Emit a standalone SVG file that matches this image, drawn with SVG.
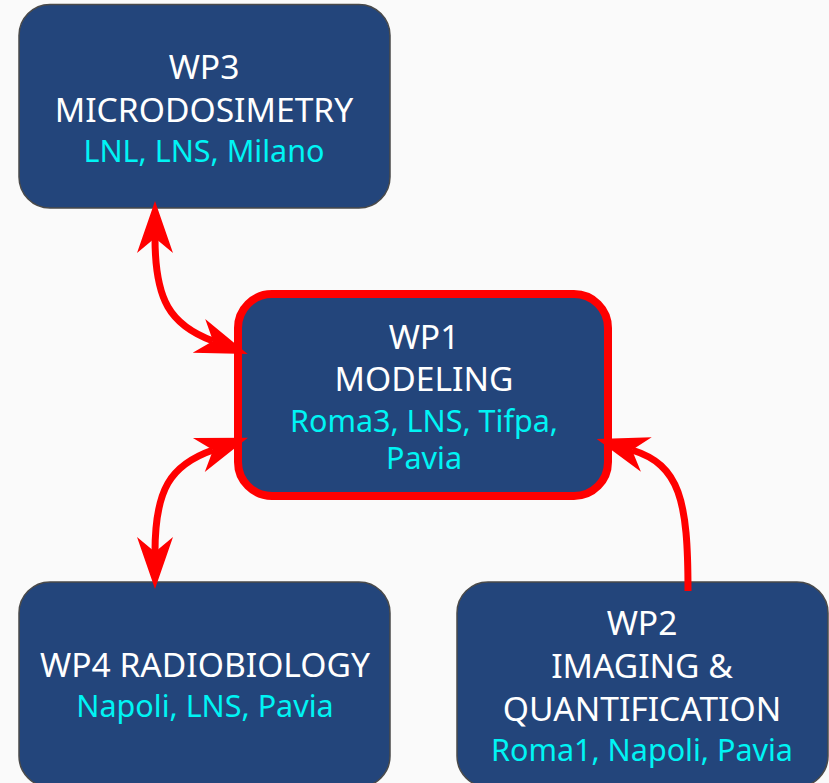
<svg xmlns="http://www.w3.org/2000/svg" width="829" height="783" viewBox="0 0 829 783">
<style>
.box{fill:#23457b;stroke:#4a4a4a;stroke-width:1.5}
.main{fill:#23457b;stroke:#ff0000;stroke-width:8}
text{font-family:"Noto Sans","Open Sans",sans-serif;font-size:33.6px;text-anchor:middle}
.t{fill:#ffffff}
.s{fill:#00f4f4;font-size:30.5px}
.c{fill:none;stroke:#ff0000;stroke-width:7}
</style>
<defs>
<marker id="ah" viewBox="-20 -20 60 40" markerWidth="60" markerHeight="40" refX="0" refY="0" markerUnits="userSpaceOnUse" orient="auto-start-reverse">
<path d="M37,0 L-15,-18 L0,0 L-15,18 Z" fill="#ff0000"/>
</marker>
</defs>
<rect width="829" height="783" fill="#fafafa"/>
<g id="wp3">
<rect class="box" x="19" y="4.5" width="371" height="203.5" rx="31"/>
<text class="t" x="204" y="79">WP3</text>
<text class="t" x="204" y="122">MICRODOSIMETRY</text>
<text class="s" x="204" y="162">LNL, LNS, Milano</text>
</g>
<g id="wp1">
<rect class="main" x="238" y="294" width="370" height="202" rx="34"/>
<text class="t" x="424" y="349">WP1</text>
<text class="t" x="424" y="391">MODELING</text>
<text class="s" x="424" y="432">Roma3, LNS, Tifpa,</text>
<text class="s" x="424" y="469">Pavia</text>
</g>
<g id="wp4">
<rect class="box" x="19" y="582" width="371" height="205" rx="31"/>
<text class="t" x="205" y="677">WP4 RADIOBIOLOGY</text>
<text class="s" x="205" y="717">Napoli, LNS, Pavia</text>
</g>
<g id="wp2">
<rect class="box" x="457" y="582" width="371" height="205" rx="31"/>
<text class="t" x="642" y="635">WP2</text>
<text class="t" x="642" y="678">IMAGING &amp;</text>
<text class="t" x="642" y="721">QUANTIFICATION</text>
<text class="s" x="642" y="761">Roma1, Napoli, Pavia</text>
</g>
<g id="connectors">
<path class="c" d="M155,238 C155,300 170,325 213,341" marker-start="url(#ah)" marker-end="url(#ah)"/>
<path class="c" d="M155,552 C155,490 170,465 213,450" marker-start="url(#ah)" marker-end="url(#ah)"/>
<path class="c" d="M688,591 C688,500 680,465 632,450" marker-end="url(#ah)"/>
</g>
</svg>
